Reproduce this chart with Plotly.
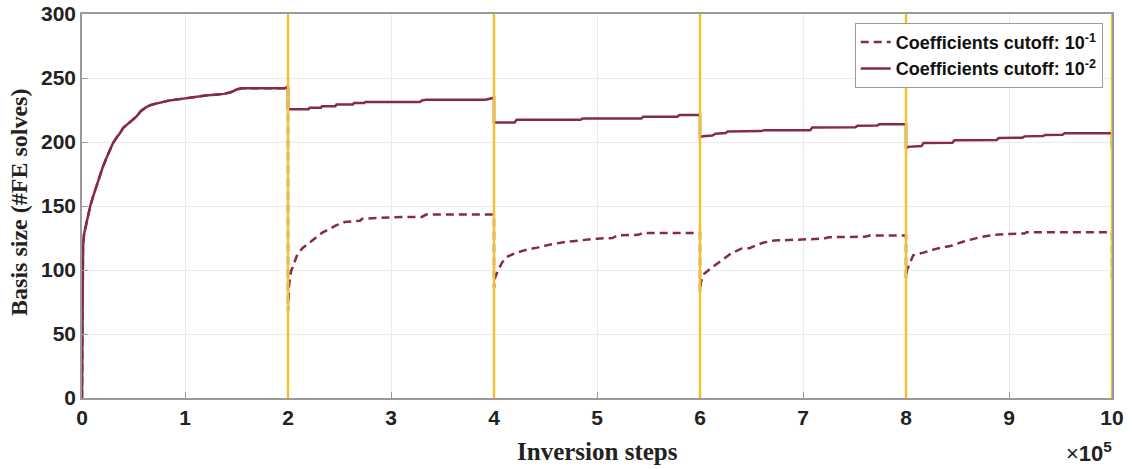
import plotly.graph_objects as go

# x in units of 10^5 inversion steps
solid_x = [0, 0.003, 0.01, 0.02, 0.04, 0.06, 0.08, 0.11, 0.14, 0.17, 0.2, 0.24, 0.27, 0.3, 0.34, 0.37,
           0.4, 0.44, 0.48, 0.53, 0.57, 0.62, 0.67, 0.72, 0.8, 0.85, 0.95, 1.08, 1.2, 1.38, 1.45, 1.5,
           1.55, 1.97, 1.99, 2.0,
           2.0, 2.2, 2.21, 2.32, 2.33, 2.46, 2.47, 2.63, 2.64, 2.74, 2.75, 3.28, 3.3, 3.34, 3.92, 3.98, 4.0,
           4.0, 4.2, 4.22, 4.84, 4.86, 5.43, 5.45, 5.78, 5.8, 6.0,
           6.0, 6.03, 6.12, 6.15, 6.25, 6.27, 6.6, 6.62, 7.07, 7.09, 7.51, 7.53, 7.72, 7.74, 8.0,
           8.0, 8.02, 8.15, 8.17, 8.45, 8.47, 8.88, 8.9, 9.13, 9.15, 9.33, 9.35, 9.52, 9.54, 10.0, 10.0]
solid_y = [0, 100, 118, 128, 136, 142, 150, 158, 166, 173, 180, 188, 194, 199, 204, 207,
           211, 214, 217, 220, 224, 227, 229, 230, 231, 232.5, 233.5, 235, 236.3, 237.6, 239, 241,
           242, 242, 243.5, 243.5,
           225.6, 225.6, 226.7, 226.7, 228, 228, 229.2, 229.2, 230.5, 230.5, 231.3, 231.3, 232.5, 233, 233, 234.6, 234.6,
           215.3, 215.3, 217.4, 217.4, 218.4, 218.4, 219.7, 219.7, 221, 221,
           203.9, 204.5, 205, 206.5, 207, 208.3, 208.5, 209.2, 209.2, 211.4, 211.6, 212.7, 212.9, 213.8, 213.8,
           194.8, 196.2, 196.8, 199.2, 199.5, 201.3, 201.6, 203.1, 203.3, 204.4, 204.6, 205.5, 205.7, 206.8, 206.8, 195]

dashed_x = [0, 0.003, 0.01, 0.02, 0.04, 0.06, 0.08, 0.11, 0.14, 0.17, 0.2, 0.24, 0.27, 0.3, 0.34, 0.37,
            0.4, 0.44, 0.48, 0.53, 0.57, 0.62, 0.67, 0.72, 0.8, 0.85, 0.95, 1.08, 1.2, 1.38, 1.45, 1.5,
            1.55, 1.97, 1.99, 2.0,
            2.0, 2.005, 2.01, 2.03, 2.06, 2.09, 2.14, 2.2, 2.26, 2.33, 2.4, 2.47, 2.55, 2.7, 2.72, 2.82, 3.1,
            3.3, 3.34, 4.0,
            4.0, 4.01, 4.04, 4.08, 4.12, 4.2, 4.3, 4.42, 4.55, 4.7, 4.9, 5.0, 5.15, 5.2, 5.4, 5.45, 6.0,
            6.0, 6.01, 6.04, 6.1, 6.17, 6.23, 6.3, 6.4, 6.48, 6.55, 6.62, 6.72, 6.91, 7.2, 7.25, 7.6, 7.65, 8.0,
            8.0, 8.01, 8.03, 8.07, 8.17, 8.3, 8.43, 8.56, 8.72, 8.85, 9.01, 9.15, 9.17, 10.0, 10.0]
dashed_y = [0, 100, 118, 128, 136, 142, 150, 158, 166, 173, 180, 188, 194, 199, 204, 207,
            211, 214, 217, 220, 224, 227, 229, 230, 231, 232.5, 233.5, 235, 236.3, 237.6, 239, 241,
            242, 242, 243.5, 243.5,
            68, 80, 88, 99, 106, 112, 117, 121, 125, 129, 132, 135, 137.5, 138.5, 140, 140.5, 141.5,
            141.5, 143.3, 143.3,
            86, 94, 100, 106, 110, 113, 115.5, 117.5, 120, 122, 123.5, 124.5, 125, 127, 127.5, 129, 129,
            83, 91, 97, 101, 105, 109, 112.8, 116.7, 117, 119.5, 121.5, 123, 123.8, 124.5, 125.6, 126, 127, 127,
            93.6, 100, 104, 111.5, 113.6, 116.7, 118.7, 122.3, 125.6, 127.4, 128.2, 128.5, 129.5, 129.5, 93.6]

restart_steps = [2, 4, 6, 8, 10]
x_ticks = [0, 1, 2, 3, 4, 5, 6, 7, 8, 9, 10]
y_ticks = [0, 50, 100, 150, 200, 250, 300]

line_color = "#862A4B"
yellow = "#F2C12E"
text_color = "#222222"

fig = go.Figure()
fig.add_trace(go.Scatter(
    x=dashed_x, y=dashed_y, mode="lines",
    line=dict(color=line_color, width=2.5, dash="8px,5px"),
    name="Coefficients cutoff: 10<sup>-1</sup>"))
fig.add_trace(go.Scatter(
    x=solid_x, y=solid_y, mode="lines",
    line=dict(color=line_color, width=2.5),
    name="Coefficients cutoff: 10<sup>-2</sup>"))

for xs in restart_steps:
    fig.add_vline(x=xs, line=dict(color=yellow, width=2.5), layer="above")

tickfont = dict(family="Liberation Sans", size=21, color=text_color, weight="bold")
axis_common = dict(
    showgrid=True, gridcolor="#EBEBEB", gridwidth=1, zeroline=False,
    showline=True, linecolor="#9A9A9A", linewidth=1.5, mirror=True,
    ticks="inside", ticklen=6, tickcolor="#9A9A9A", tickfont=tickfont,
    automargin=False)
fig.update_xaxes(range=[0, 10], tickvals=x_ticks,
                 ticktext=[str(v) for v in x_ticks], **axis_common)
fig.update_yaxes(range=[0, 300], tickvals=y_ticks, **axis_common)

# axis titles
fig.add_annotation(
    x=0.5, y=0, xref="paper", yref="paper", xanchor="center", yanchor="top",
    yshift=-38, showarrow=False, text="<b>Inversion steps</b>",
    font=dict(family="Liberation Serif", size=25, color=text_color))
fig.add_annotation(
    x=0, y=0.508, xref="paper", yref="paper", xanchor="center", yanchor="middle",
    xshift=-63, showarrow=False, textangle=-90, text="<b>Basis size (#FE solves)</b>",
    font=dict(family="Liberation Serif", size=24, color=text_color))

fig.add_annotation(
    x=1.0, y=0, xref="paper", yref="paper", xanchor="right", yanchor="top",
    xshift=2, yshift=-38, showarrow=False,
    text="<span style='font-weight:normal'>×</span>10<sup>5</sup>",
    font=dict(family="Liberation Sans", size=22, color=text_color, weight="bold"))

fig.update_layout(
    width=1132, height=469,
    margin=dict(l=82, r=20, t=14, b=71),
    paper_bgcolor="white", plot_bgcolor="white",
    showlegend=True,
    legend=dict(x=0.991, y=0.977, xanchor="right", yanchor="top",
                bgcolor="white", bordercolor="#9A9A9A", borderwidth=1,
                font=dict(family="Liberation Sans", size=18, color="#111111", weight="bold"),
                tracegroupgap=2, itemwidth=30),
)

fig.write_html("out.html")
